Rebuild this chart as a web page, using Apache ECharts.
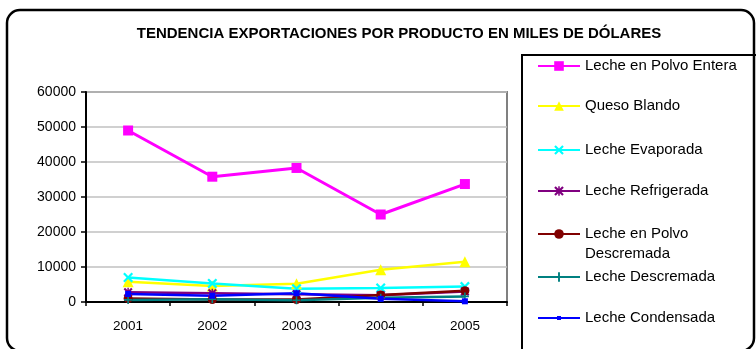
<!DOCTYPE html>
<html>
<head>
<meta charset="utf-8">
<script src="https://cdn.jsdelivr.net/npm/echarts@6/dist/echarts.min.js"></script>
<style>
  html, body { margin: 0; padding: 0; background: #fff; }
  #chart { width: 756px; height: 349px; }
</style>
</head>
<body>
<div id="chart"></div>
<script>
// Years on the category axis
const years = ['2001', '2002', '2003', '2004', '2005'];

// Exports per product, thousands of dollars
const lechePolvoEntera     = [49000, 35800, 38300, 25000, 33700];
const quesoBlando          = [5800, 4600, 5200, 9200, 11500];
const lecheEvaporada       = [7000, 5300, 3800, 4000, 4400];
const lecheRefrigerada     = [2800, 2500, 2200, 1900, 3000];
const lechePolvoDescremada = [1000, 700, 700, 2000, 3200];
const lecheDescremada      = [600, 800, 500, 1200, 1600];
const lecheCondensada      = [2300, 1800, 2500, 900, 200];

// Value axis ticks
const yTicks = [0, 10000, 20000, 30000, 40000, 50000, 60000];

const FONT = 'Liberation Sans, Arial, sans-serif';

// Marker shapes drawn as filled outlines
const xMark = 'path://M0,1.6L1.6,0L5,3.4L8.4,0L10,1.6L6.6,5L10,8.4L8.4,10L5,6.6L1.6,10L0,8.4L3.4,5Z';
const starMark = 'path://M0,1.6L1.6,0L5,3.4L8.4,0L10,1.6L6.6,5L10,8.4L8.4,10L5,6.6L1.6,10L0,8.4L3.4,5Z M4.2,0L5.8,0L5.8,10L4.2,10Z';
const plusMark = 'path://M4,0L6,0L6,4L10,4L10,6L6,6L6,10L4,10L4,6L0,6L0,4L4,4Z';

const seriesDefs = [
  { name: 'Leche en Polvo Entera', data: lechePolvoEntera, color: '#FF00FF', symbol: 'rect', size: 10, legendY: 66 },
  { name: 'Queso Blando', data: quesoBlando, color: '#FFFF00', symbol: 'triangle', size: 11, legendY: 106 },
  { name: 'Leche Evaporada', data: lecheEvaporada, color: '#00FFFF', symbol: xMark, size: 10, legendY: 150 },
  { name: 'Leche Refrigerada', data: lecheRefrigerada, color: '#800080', symbol: starMark, size: 9, legendY: 191 },
  { name: 'Leche en Polvo Descremada', data: lechePolvoDescremada, color: '#800000', symbol: 'circle', size: 9, legendY: 234, twoLine: true },
  { name: 'Leche Descremada', data: lecheDescremada, color: '#008080', symbol: plusMark, size: 8, legendY: 277 },
  { name: 'Leche Condensada', data: lecheCondensada, color: '#0000FF', symbol: 'rect', size: 6, legendY: 318 }
];

const series = seriesDefs.map(d => ({
  name: d.name,
  type: 'line',
  data: d.data,
  symbol: d.symbol,
  symbolSize: d.size,
  showAllSymbol: true,
  lineStyle: { color: d.color, width: d.name === 'Leche en Polvo Entera' ? 3 : 2.5 },
  itemStyle: { color: d.color },
  emphasis: { disabled: true },
  animation: false
}));

// One legend block per product so each row sits at its own height
const LEGEND_FONT = 15;
const legends = seriesDefs.map(d => {
  const lg = {
    data: [d.name],
    orient: 'vertical',
    left: 537,
    padding: 0,
    itemWidth: 42,
    itemHeight: d.name === 'Leche Condensada' ? 5 : 12,
    selectedMode: false,
    textStyle: { color: '#000', fontSize: LEGEND_FONT, fontFamily: FONT }
  };
  if (d.twoLine) {
    // leading blank line keeps the icon level with the first text line
    lg.formatter = () => '\nLeche en Polvo\nDescremada';
    lg.textStyle.lineHeight = 20;
    lg.top = d.legendY - 30;
  } else {
    lg.top = d.legendY - LEGEND_FONT / 2;
  }
  return lg;
});

const chart = echarts.init(document.getElementById('chart'), null, { renderer: 'canvas' });
chart.setOption({
  backgroundColor: '#fff',
  animation: false,
  title: {
    text: 'TENDENCIA EXPORTACIONES POR PRODUCTO EN MILES DE DÓLARES',
    left: 394,
    top: 21,
    textAlign: 'center',
    textStyle: { fontFamily: FONT, fontSize: 15, fontWeight: 'bold', color: '#000' }
  },
  legend: legends,
  grid: {
    left: 86, right: 249, top: 92, bottom: 47,
    show: true,
    borderColor: '#808080',
    borderWidth: 2,
    backgroundColor: '#fff'
  },
  xAxis: {
    type: 'category',
    data: years,
    boundaryGap: true,
    axisLine: { lineStyle: { color: '#000', width: 2 } },
    axisTick: { show: true, length: 4, lineStyle: { color: '#000', width: 1.5 } },
    axisLabel: { color: '#000', fontSize: 13.5, fontFamily: FONT, margin: 17 },
    splitLine: { show: false }
  },
  yAxis: {
    type: 'value',
    min: yTicks[0],
    max: yTicks[yTicks.length - 1],
    interval: yTicks[1] - yTicks[0],
    axisLine: { show: true, lineStyle: { color: '#000', width: 2 } },
    axisTick: { show: true, length: 5, lineStyle: { color: '#000', width: 1.5 } },
    axisLabel: { color: '#000', fontSize: 14, fontFamily: FONT, margin: 10, formatter: v => String(v) },
    splitLine: { show: true, lineStyle: { color: '#C0C0C0', width: 1.5 } }
  },
  graphic: [
    {
      type: 'rect',
      shape: { x: 7, y: 10, width: 747, height: 341, r: 13 },
      style: { fill: 'none', stroke: '#000', lineWidth: 2.5 },
      silent: true, z: 100
    },
    {
      type: 'rect',
      shape: { x: 522, y: 55, width: 260, height: 320 },
      style: { fill: 'none', stroke: '#000', lineWidth: 2 },
      silent: true, z: 100
    }
  ],
  series: series
});
</script>
</body>
</html>
